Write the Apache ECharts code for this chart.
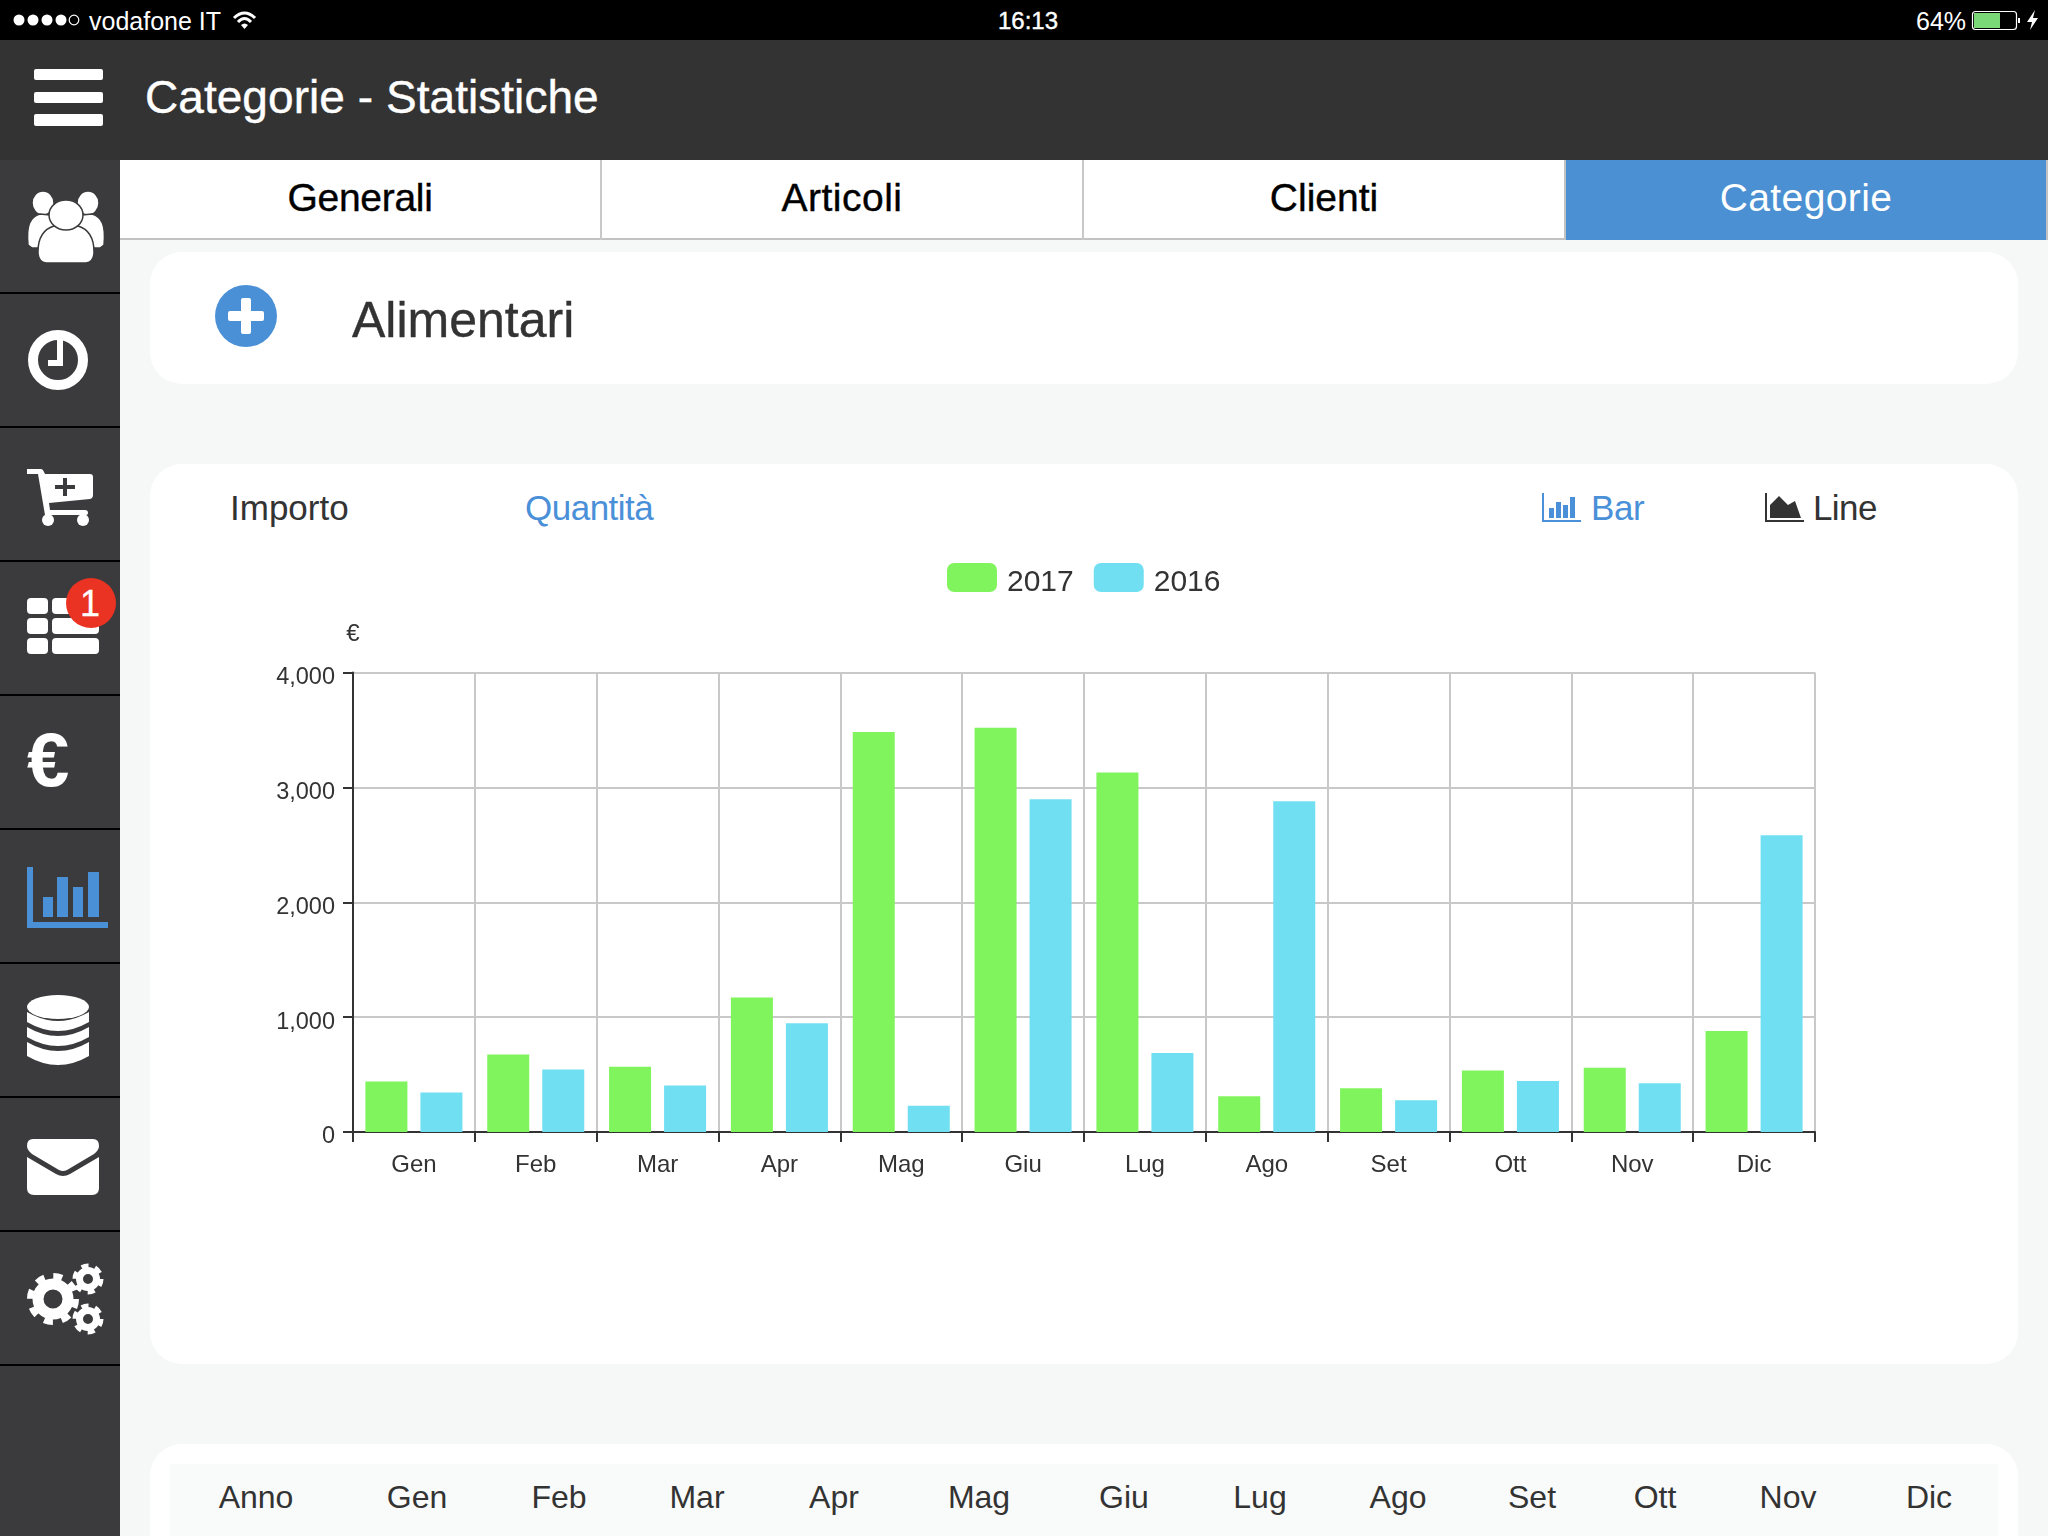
<!DOCTYPE html>
<html lang="it">
<head>
<meta charset="utf-8">
<title>Categorie - Statistiche</title>
<script src="https://cdn.jsdelivr.net/npm/echarts@6/dist/echarts.min.js"></script>
<style>
html,body{margin:0;padding:0;width:2048px;height:1536px;overflow:hidden;background:#f6f8f7;font-family:"Liberation Sans",Arial,sans-serif;color:#333}
.abs,.abs-c{position:absolute;white-space:nowrap;line-height:1}
.abs-c{transform:translate(-50%,-50%)}
.v{transform:translateY(-50%)}
.box{position:absolute}
.card{position:absolute;left:150px;width:1868px;background:#fff;border-radius:32px}
svg{position:absolute;left:0;top:0;overflow:visible}
#chart{position:absolute;left:150px;top:464px;width:1868px;height:900px}
</style>
</head>
<body>
<div class="box" style="left:0;top:0;width:2048px;height:40px;background:#000"></div>
<div class="box" style="left:0;top:40px;width:2048px;height:120px;background:#333"></div>
<div class="box" style="left:0;top:160px;width:120px;height:1376px;background:#3b3b3d"></div>
<div class="box" style="left:120px;top:160px;width:1928px;height:80px;background:#fff;border-bottom:0"></div>
<div class="box" style="left:120px;top:238px;width:1928px;height:2px;background:#c2c2c2"></div>
<div class="box" style="left:600px;top:160px;width:2px;height:80px;background:#c8c8c8"></div>
<div class="box" style="left:1082px;top:160px;width:2px;height:80px;background:#c8c8c8"></div>
<div class="box" style="left:1564px;top:160px;width:2px;height:80px;background:#c2c2c2"></div>
<div class="box" style="left:1566px;top:160px;width:480px;height:80px;background:#4a90d2"></div>
<div class="box" style="left:2046px;top:160px;width:2px;height:80px;background:#c2c2c2"></div>

<div class="abs v" style="left:89px;top:21px;font-size:25px;color:#fff">vodafone IT</div>
<div class="abs-c" style="left:1028px;top:21px;font-size:24px;color:#fff;-webkit-text-stroke:.4px #fff">16:13</div>
<div class="abs v" style="left:1916px;top:21px;font-size:25px;color:#fff">64%</div>
<div class="abs v" style="left:145px;top:97px;font-size:46px;letter-spacing:.05px;color:#fff;-webkit-text-stroke:.4px #fff">Categorie - Statistiche</div>

<div class="abs-c" style="left:360px;top:197px;font-size:39px;letter-spacing:-.3px;color:#000;-webkit-text-stroke:.4px #000">Generali</div>
<div class="abs-c" style="left:842px;top:197px;font-size:39px;letter-spacing:.5px;color:#000;-webkit-text-stroke:.4px #000">Articoli</div>
<div class="abs-c" style="left:1324px;top:197px;font-size:39px;color:#000;-webkit-text-stroke:.4px #000">Clienti</div>
<div class="abs-c" style="left:1806px;top:197px;font-size:39px;letter-spacing:.4px;color:#fff">Categorie</div>

<div class="card" style="top:252px;height:132px"></div>
<div class="abs v" style="left:352px;top:320px;font-size:50px;color:#333;-webkit-text-stroke:.4px #333">Alimentari</div>

<div class="card" style="top:464px;height:900px"></div>
<div class="abs v" style="left:230px;top:507px;font-size:35px;color:#333">Importo</div>
<div class="abs v" style="left:525px;top:507px;font-size:35px;letter-spacing:-.5px;color:#4a90d9">Quantità</div>
<div class="abs v" style="left:1591px;top:507px;font-size:35px;letter-spacing:-.4px;color:#4a90d9">Bar</div>
<div class="abs v" style="left:1813px;top:507px;font-size:35px;letter-spacing:-.6px;color:#333">Line</div>

<div class="card" style="top:1444px;height:140px"></div>
<div class="box" style="left:170px;top:1464px;width:1828px;height:72px;background:#f9fafa"></div>
<div id="tableHead"></div>

<svg width="2048" height="1536" viewBox="0 0 2048 1536" xmlns="http://www.w3.org/2000/svg">
  <!-- sidebar separators -->
  <g fill="#000">
    <rect x="0" y="292" width="120" height="2"/><rect x="0" y="426" width="120" height="2"/>
    <rect x="0" y="560" width="120" height="2"/><rect x="0" y="694" width="120" height="2"/>
    <rect x="0" y="828" width="120" height="2"/><rect x="0" y="962" width="120" height="2"/>
    <rect x="0" y="1096" width="120" height="2"/><rect x="0" y="1230" width="120" height="2"/>
    <rect x="0" y="1364" width="120" height="2"/>
  </g>
  <!-- status bar -->
  <g fill="#fff">
    <circle cx="19" cy="20" r="5.500"/><circle cx="33" cy="20" r="5.500"/><circle cx="47" cy="20" r="5.500"/><circle cx="61" cy="20" r="5.500"/>
    <circle cx="74" cy="20" r="4.800" fill="none" stroke="#fff" stroke-width="1.200"/>
  </g>
  <g fill="none" stroke="#fff" stroke-width="3">
    <path d="M234 18 Q244.500 8 255 18"/><path d="M238 22 Q244.500 15 251 22"/>
  </g>
  <path d="M241 25 Q244.500 22 248 25 L244.500 29 Z" fill="#fff"/>
  <rect x="1972.500" y="11.500" width="44" height="18" rx="3" fill="none" stroke="#fff" stroke-width="1.200"/>
  <rect x="1974" y="13" width="26" height="15" fill="#7ad976"/>
  <rect x="2018" y="18" width="2" height="5" fill="#fff"/>
  <path d="M2035 10 L2027 22 H2032 L2030 30 L2038 18 H2033 Z" fill="#fff"/>
  <!-- hamburger -->
  <g fill="#fff">
    <rect x="34" y="69" width="69" height="11" rx="2"/><rect x="34" y="92" width="69" height="11" rx="2"/><rect x="34" y="114" width="69" height="12" rx="2"/>
  </g>
  <!-- plus -->
  <circle cx="246" cy="316" r="31" fill="#4a90d6"/>
  <path d="M241 300 Q241 298 243 298 h6 Q251 298 251 300 v11 h11 Q264 311 264 313 v6 Q264 321 262 321 h-11 v11 Q251 334 249 334 h-6 Q241 334 241 332 v-11 h-11 Q228 321 228 319 v-6 Q228 311 230 311 h11 Z" fill="#fff"/>
  <!-- users -->
  <g fill="#fff" stroke="#3b3b3d" stroke-width="1.500">
    <ellipse cx="43" cy="203" rx="11" ry="12"/><ellipse cx="88" cy="203" rx="11" ry="12"/>
    <path d="M28 245 C26 225 30 217 40 214 L60 216 L52 248 L32 248 Z"/>
    <path d="M104 245 C106 225 102 217 92 214 L72 216 L80 248 L100 248 Z"/>
    <path d="M38 252 C38 238 44 229 54 226 L78 226 C88 229 94 238 94 252 Q94 262 86 263 L46 263 Q38 262 38 252 Z"/>
    <ellipse cx="66" cy="215" rx="17" ry="15"/>
  </g>
  <!-- clock -->
  <circle cx="58" cy="360" r="25" fill="none" stroke="#fff" stroke-width="10"/>
  <path d="M57 340 h6 v26 h-15 v-6 h9 Z" fill="#fff"/>
  <!-- cart -->
  <path d="M27 469 H41 Q43 469 44 472 L45 474 H90 Q93 474 93 477 V495 Q93 498 90 499 L49 503 L50 510 H85 Q88 510 88 513 Q88 515 85 515 H45 L38 474 H27 Z" fill="#fff"/>
  <circle cx="48" cy="520" r="6" fill="#fff"/><circle cx="83" cy="520" r="6" fill="#fff"/>
  <path d="M63 478 h4 v7 h8 v4 h-8 v7 h-4 v-7 h-8 v-4 h8 Z" fill="#3b3b3d"/>
  <!-- grid + badge -->
  <g fill="#fff">
    <rect x="27" y="598" width="21" height="16" rx="4"/><rect x="52" y="598" width="47" height="16" rx="4"/>
    <rect x="27" y="618" width="21" height="16" rx="4"/><rect x="52" y="618" width="47" height="16" rx="4"/>
    <rect x="27" y="638" width="21" height="16" rx="4"/><rect x="52" y="638" width="47" height="16" rx="4"/>
  </g>
  <circle cx="91" cy="603" r="25" fill="#ea3323"/>
  <text x="90" y="616" font-family="Liberation Sans" font-size="36" fill="#fff" stroke="#fff" stroke-width=".3" text-anchor="middle">1</text>
  <!-- euro -->
  <text x="27" y="786" font-family="Liberation Sans" font-weight="bold" font-size="76" fill="#fff">€</text>
  <!-- bar icon -->
  <g fill="#4a90d6">
    <rect x="27" y="867" width="6" height="61"/><rect x="27" y="922" width="81" height="6"/>
    <rect x="43" y="897" width="10" height="20"/><rect x="57" y="877" width="11" height="40"/>
    <rect x="73" y="887" width="10" height="30"/><rect x="88" y="872" width="11" height="45"/>
  </g>
  <!-- database -->
  <g fill="#fff">
    <ellipse cx="58" cy="1007" rx="31" ry="12"/>
    <path d="M27 1012 Q58 1030 89 1012 V1022 Q58 1040 27 1022 Z"/>
    <path d="M27 1027 Q58 1045 89 1027 V1037 Q58 1055 27 1037 Z"/>
    <path d="M27 1042 Q58 1060 89 1042 V1056 Q58 1074 27 1056 Z"/>
  </g>
  <!-- envelope -->
  <path d="M33 1139 H93 Q99 1139 99 1146 Q99 1150 94 1154 L67 1170 Q63 1172 59 1170 L32 1154 Q27 1150 27 1146 Q27 1139 33 1139 Z" fill="#fff"/>
  <path d="M27 1157 L56 1174 Q63 1178 70 1174 L99 1157 V1188 Q99 1195 92 1195 H34 Q27 1195 27 1188 Z" fill="#fff"/>
  <!-- gears -->
  <g fill="none" stroke="#fff">
    <circle cx="53" cy="1299" r="15" stroke-width="11"/>
    <circle cx="53" cy="1299" r="23" stroke-width="6" stroke-dasharray="9 9"/>
    <circle cx="88" cy="1279" r="8.500" stroke-width="7"/>
    <circle cx="88" cy="1279" r="13" stroke-width="5" stroke-dasharray="7 6.600"/>
    <circle cx="88" cy="1319" r="8.500" stroke-width="7"/>
    <circle cx="88" cy="1319" r="13" stroke-width="5" stroke-dasharray="7 6.600"/>
  </g>
  <!-- bar toggle icon -->
  <g fill="#4a90d9">
    <rect x="1542" y="493" width="2" height="29"/><rect x="1542" y="520" width="39" height="2"/>
    <rect x="1549" y="508" width="5" height="10"/><rect x="1556" y="502" width="5" height="16"/>
    <rect x="1563" y="505" width="5" height="13"/><rect x="1570" y="497" width="5" height="21"/>
  </g>
  <!-- line toggle icon -->
  <g fill="#333">
    <rect x="1765" y="493" width="2" height="29"/><rect x="1765" y="520" width="39" height="2"/>
    <path d="M1770 518 V505 L1779 496 L1788 505 L1795 501 L1801 518 Z"/>
  </g>
</svg>

<div id="chart"></div>

<script>
const categories = ['Gen','Feb','Mar','Apr','Mag','Giu','Lug','Ago','Set','Ott','Nov','Dic'];
const values2017 = [440,675,567,1171,3481,3520,3129,312,380,536,560,880];
const values2016 = [344,543,404,947,228,2897,687,2880,276,444,424,2584];
const seriesNames = ['2017','2016'];
const yTicks = {min:0,max:4000,interval:1000};
const tableLabels = ['Anno','Gen','Feb','Mar','Apr','Mag','Giu','Lug','Ago','Set','Ott','Nov','Dic'];
const tableCenters = [256,417,559,697,834,979,1124,1260,1398,1532,1655,1788,1929];

const head = document.getElementById('tableHead');
tableLabels.forEach((t,i)=>{
  const d=document.createElement('div');
  d.className='abs-c';
  d.style.cssText='left:'+tableCenters[i]+'px;top:1497px;font-size:32px;color:#333';
  d.textContent=t;
  head.appendChild(d);
});

const green='#80f45c', cyan='#70dff2', grid='#c8c8c8', ink='#333';
const chart = echarts.init(document.getElementById('chart'), null, {renderer:'canvas'});
chart.setOption({
  animation:false,
  backgroundColor:'transparent',
  textStyle:{fontFamily:'"Liberation Sans",Arial,sans-serif'},
  legend:{
    show:true,left:797,top:99,padding:0,itemGap:20,itemWidth:50,itemHeight:29,icon:'roundRect',
    data:seriesNames,
    formatter:n=>'{t|'+n+'}',
    textStyle:{color:ink,rich:{t:{fontSize:30,color:ink,padding:[10,0,0,5]}}}
  },
  grid:{left:203,right:203,top:208.5,height:459.5,containLabel:false},
  xAxis:{
    type:'category',data:categories,boundaryGap:true,
    axisLine:{show:true,lineStyle:{color:ink,width:2}},
    axisTick:{show:true,length:10,alignWithLabel:false,lineStyle:{color:ink,width:2}},
    axisLabel:{show:true,interval:0,margin:21,fontSize:24,color:ink},
    splitLine:{show:true,interval:0,showMaxLine:true,lineStyle:{color:grid,width:2}}
  },
  yAxis:{
    type:'value',min:yTicks.min,max:yTicks.max,interval:yTicks.interval,
    name:'€',nameLocation:'end',nameGap:26,nameTextStyle:{fontSize:24,color:ink,align:'center'},
    axisLine:{show:true,lineStyle:{color:ink,width:2}},
    axisTick:{show:true,length:10,lineStyle:{color:ink,width:2}},
    axisLabel:{show:true,margin:18,fontSize:23.5,color:ink,verticalAlign:'top',lineHeight:10,formatter:v=>v.toLocaleString('en-US')},
    splitLine:{show:true,showMaxLine:true,showMinLine:false,lineStyle:{color:grid,width:2}}
  },
  series:[
    {name:seriesNames[0],type:'bar',data:values2017,barWidth:42,barGap:'31%',itemStyle:{color:green}},
    {name:seriesNames[1],type:'bar',data:values2016,barWidth:42,barGap:'31%',itemStyle:{color:cyan}}
  ]
});
</script>
</body>
</html>
